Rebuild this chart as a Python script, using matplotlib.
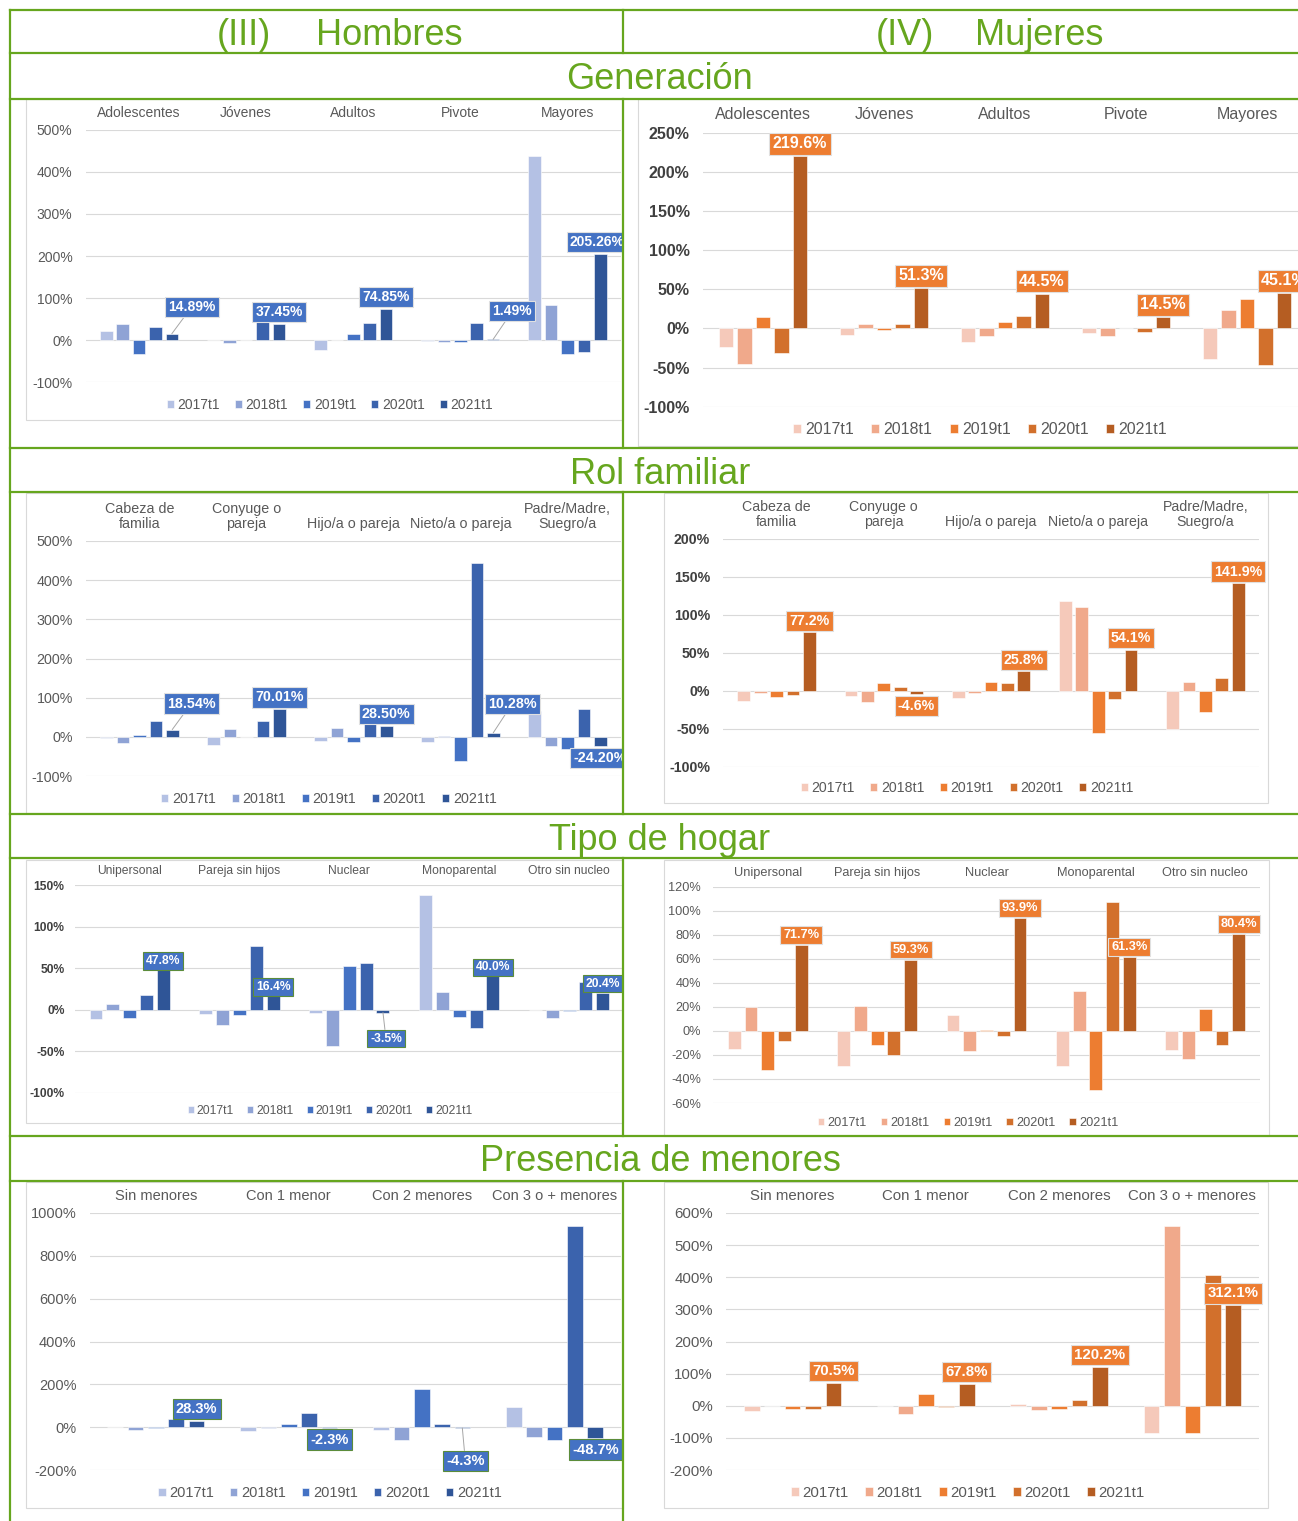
import numpy as np
import matplotlib.pyplot as plt
from matplotlib.patches import Rectangle
from matplotlib.lines import Line2D
from matplotlib.transforms import Bbox

W, H = 1298, 1521
plt.rcParams['font.family'] = ['Liberation Sans', 'DejaVu Sans']

GREEN = '#66a61e'
GREY = '#595959'

years = ['2017t1', '2018t1', '2019t1', '2020t1', '2021t1']
blues = ['#b4c1e4', '#8fa3d5', '#4472c4', '#3b63ad', '#2f5597']
oranges = ['#f5c9ba', '#f0a98b', '#ed7d31', '#d2702c', '#b55d22']

# rows = categories, columns = 2017t1..2021t1 (% change)
gen_cats = ['Adolescentes', 'Jóvenes', 'Adultos', 'Pivote', 'Mayores']
gen_h = [[21, 39, -34, 32, 14.89],
         [0, -8, 0, 42, 37.45],
         [-24, 0, 15, 40, 74.85],
         [-2, -4, -4, 41, 1.49],
         [438, 83, -33, -28, 205.26]]
gen_m = [[-24, -46, 15, -32, 219.6],
         [-9, 5.5, -2.5, 5.5, 51.3],
         [-17, -10, 8, 16, 44.5],
         [-6, -10, 0, -5, 14.5],
         [-39, 23.5, 37.6, -47, 45.1]]

rol_cats = ['Cabeza de\nfamilia', 'Conyuge o\npareja', 'Hijo/a o pareja',
            'Nieto/a o pareja', 'Padre/Madre,\nSuegro/a']
rol_h = [[-3, -17, 4, 41, 18.54],
         [-21, 20, 0, 41, 70.01],
         [-10, 22, -14, 35, 28.50],
         [-14, 3, -62, 445, 10.28],
         [65, -24, -30, 72, -24.20]]
rol_m = [[-13, -3, -8, -6, 77.2],
         [-6.5, -15, 10.5, 4.4, -4.6],
         [-9, -3, 11.4, 10, 25.8],
         [118, 110.5, -55, -11.4, 54.1],
         [-50, 11.8, -28, 16.7, 141.9]]

hog_cats = ['Unipersonal', 'Pareja sin hijos', 'Nuclear', 'Monoparental', 'Otro sin nucleo']
hog_h = [[-11, 7, -10, 17, 47.8],
         [-5, -19, -6, 76, 16.4],
         [-3.6, -44, 52.6, 56.6, -3.5],
         [138, 21.7, -9, -21.7, 40.0],
         [-1, -10, -1.6, 33, 20.4]]
hog_m = [[-14.7, 20.2, -32.4, -8.6, 71.7],
         [-29.6, 21, -11.9, -19.9, 59.3],
         [13.3, -16.6, 1.1, -3.9, 93.9],
         [-29.3, 33.2, -49, 107.3, 61.3],
         [-15.8, -23.5, 18, -11.6, 80.4]]

men_cats = ['Sin menores', 'Con 1 menor', 'Con 2 menores', 'Con 3 o + menores']
men_h = [[0, -11, -3, 36, 28.3],
         [-20, -6, 15.6, 64, -2.3],
         [-11, -61, 176, 14, -4.3],
         [95, -48, -59, 941, -48.7]]
men_m = [[-15.6, 0, -10.4, -9.3, 70.5],
         [0, -27, 36, -4, 67.8],
         [6, -14.5, -9, 17.6, 120.2],
         [-85, 561, -84, 407, 312.1]]

fig = plt.figure(figsize=(W / 100, H / 100), dpi=100)
fig.patch.set_facecolor('white')


def fx(x):
    return x / W


def fy(y):
    return 1 - y / H


def panel(box, plot, cats, vals, ylim, step, colors, fs, fmt, leg_xy, fc,
          ec='#e0e0e0', moved=None, bold=False, gap=12, cat_pad=10, tick_pad=13):
    # chart frame
    fig.add_artist(Rectangle((fx(box[0]), fy(box[3])), (box[2] - box[0]) / W,
                             (box[3] - box[1]) / H, transform=fig.transFigure,
                             fill=False, ec='#d9d9d9', lw=0.8, zorder=1))
    x0, y0, x1, y1 = plot
    ax = fig.add_axes([x0 / W, 1 - y1 / H, (x1 - x0) / W, (y1 - y0) / H])
    ax.patch.set_alpha(0)
    vals = np.array(vals, dtype=float)
    n = len(cats)
    x = np.arange(n)
    slot, bw = 0.153, 0.118
    for j, yr in enumerate(years):
        ax.bar(x + (j - 2) * slot, vals[:, j], bw, color=colors[j],
               edgecolor='white', linewidth=0.4, label=yr, zorder=3)
    ax.set_xlim(-0.5, n - 0.5)
    ax.set_ylim(*ylim)
    ax.set_yticks(np.arange(ylim[0], ylim[1] + step / 2, step))
    ax.yaxis.set_major_formatter(lambda v, p: f'{v:.0f}%')
    ax.grid(axis='y', color='#d9d9d9', lw=0.8)
    ax.set_axisbelow(True)
    for s in ax.spines.values():
        s.set_visible(False)
    ax.xaxis.tick_top()
    ax.set_xticks(x)
    ax.set_xticklabels(cats, fontsize=fs, color=GREY, linespacing=1.05)
    ax.tick_params(axis='x', length=0, pad=cat_pad * 0.72)
    ax.tick_params(axis='y', length=0, pad=tick_pad * 0.72, labelsize=fs,
                   labelcolor='#404040' if bold else GREY)
    if bold:
        for t in ax.get_yticklabels():
            t.set_fontweight('bold')

    clip = Bbox.from_extents(box[0], H - box[3], box[2], H - box[1])
    moved = moved or {}
    for i in range(n):
        v = vals[i, 4]
        dx, dy, lead = moved.get(i, (0, gap if v >= 0 else -gap, False))
        ann = ax.annotate(fmt.format(v), xy=(x[i] + 2 * slot, v), xytext=(dx, dy),
                          textcoords='offset pixels', ha='center', va='center',
                          fontsize=fs, fontweight='bold', color='white',
                          bbox=dict(boxstyle='square,pad=0.22', fc=fc, ec=ec, lw=0.8),
                          arrowprops=dict(arrowstyle='-', color='#a6a6a6', lw=0.7,
                                          shrinkA=0, shrinkB=0) if lead else None,
                          annotation_clip=False, zorder=6)
        ann.set_clip_on(True)
        ann.set_clip_box(clip)

    leg = ax.legend(loc='center', bbox_to_anchor=(fx(leg_xy[0]), fy(leg_xy[1])),
                    bbox_transform=fig.transFigure, ncol=5, frameon=False, fontsize=fs,
                    handlelength=0.5, handleheight=0.5, handletextpad=0.25,
                    columnspacing=1.1, borderpad=0, borderaxespad=0)
    for t in leg.get_texts():
        t.set_color(GREY)
    return ax


# Generación
panel((26, 99, 623, 420), (85.5, 130, 621, 382), gen_cats, gen_h, (-100, 500), 100,
      blues, 10, '{:.2f}%', (330, 405), '#4472c4',
      moved={0: (20, 27, True), 3: (19, 28, True), 4: (-3, 12, False)})
panel((638, 99, 1310, 446), (702.5, 132.7, 1307.5, 406.7), gen_cats, gen_m, (-100, 250), 50,
      oranges, 11.5, '{:.1f}%', (980, 430), '#ed7d31', bold=True, gap=12.5, cat_pad=11)

# Rol familiar
panel((26, 493, 623, 813), (86, 541, 621, 776), rol_cats, rol_h, (-100, 500), 100,
      blues, 10.3, '{:.2f}%', (329, 799), '#4472c4',
      moved={0: (19, 26, True), 3: (19, 29, True)})
panel((664.5, 493, 1268, 803), (723, 539, 1259, 766.7), rol_cats, rol_m, (-100, 200), 50,
      oranges, 10.2, '{:.1f}%', (967, 788), '#ed7d31', bold=True, gap=11.5)

# Tipo de hogar
panel((26, 860, 623, 1123), (74.7, 885, 624, 1092.7), hog_cats, hog_h, (-100, 150), 50,
      blues, 8.7, '{:.1f}%', (330, 1111), '#4472c4', ec='#5b8c3a', bold=True, gap=9,
      moved={2: (3, -26, True)}, cat_pad=8, tick_pad=10)
panel((664.5, 860, 1269, 1136), (713, 886.7, 1260, 1103), hog_cats, hog_m, (-60, 120), 20,
      oranges, 9.2, '{:.1f}%', (968, 1123), '#ed7d31', gap=10, cat_pad=8, tick_pad=12)

# Presencia de menores
panel((26, 1182, 623, 1508), (89.5, 1213, 621, 1470), men_cats, men_h, (-200, 1000), 200,
      blues, 10.5, '{:.1f}%', (330, 1493), '#4472c4', ec='#5b8c3a',
      moved={2: (3, -33, True)})
panel((664.5, 1182, 1268, 1508), (726, 1213, 1259, 1470), men_cats, men_m, (-200, 600), 100,
      oranges, 10.8, '{:.1f}%', (968, 1493), '#ed7d31')

# table frame
for y in [10, 53, 98.5, 448, 492, 814, 858, 1136, 1180.5]:
    fig.add_artist(Line2D([fx(10), fx(1298)], [fy(y), fy(y)], transform=fig.transFigure,
                          color=GREEN, lw=1.6, zorder=10))
fig.add_artist(Line2D([fx(10), fx(10)], [fy(10), fy(1521)], transform=fig.transFigure,
                      color=GREEN, lw=1.6, zorder=10))
for ya, yb in [(10, 53), (98.5, 448), (492, 814), (858, 1136), (1180.5, 1521)]:
    fig.add_artist(Line2D([fx(623), fx(623)], [fy(ya), fy(yb)], transform=fig.transFigure,
                          color=GREEN, lw=1.6, zorder=10))

head = dict(ha='center', va='baseline', fontsize=26, color=GREEN)
fig.text(fx(244), fy(45), '(III)', **head)
fig.text(fx(389), fy(45), 'Hombres', **head)
fig.text(fx(905), fy(45), '(IV)', **head)
fig.text(fx(1039), fy(45), 'Mujeres', **head)
for label, yb in [('Generación', 89), ('Rol familiar', 484),
                  ('Tipo de hogar', 849.5), ('Presencia de menores', 1171)]:
    fig.text(fx(660), fy(yb), label, **head)

fig.savefig('out.png', dpi=100, facecolor='white')
